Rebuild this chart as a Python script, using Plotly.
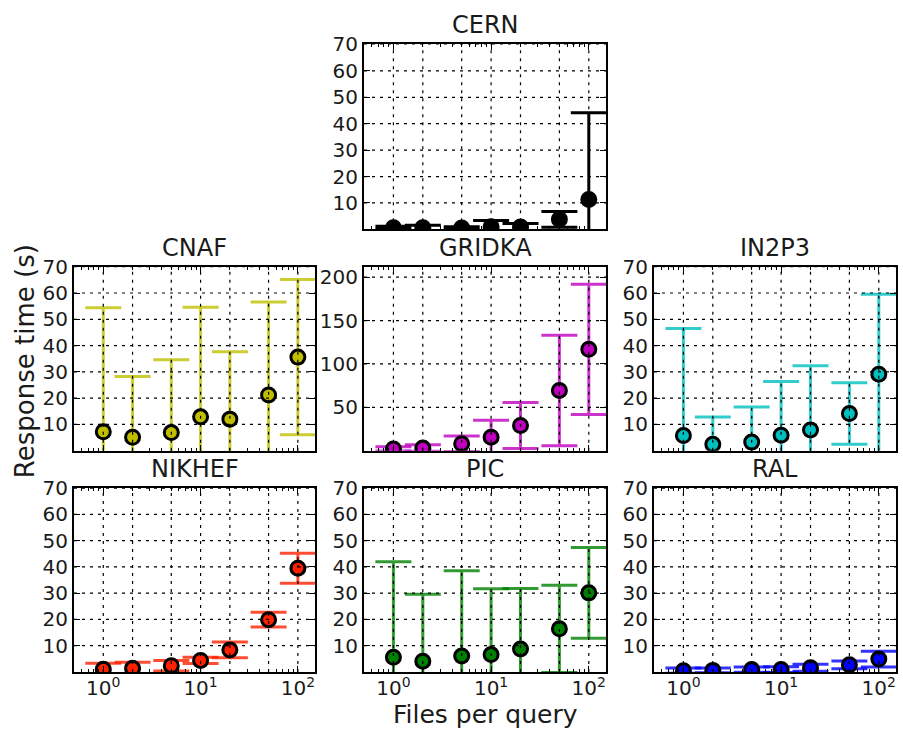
import plotly.graph_objects as go

# Number of files requested per query (x positions, log scale)
files = [1, 2, 5, 10, 20, 50, 100]

# Mean response time (s) and its standard deviation per site
cern_mean = [0.6, 0.6, 0.5, 1.0, 0.9, 3.8, 11.3]
cern_std = [0.6, 1.0, 0.5, 2.4, 1.3, 3.0, 32.8]

cnaf_mean = [7.2, 5.1, 6.9, 12.9, 12.0, 21.2, 35.6]
cnaf_std = [47.2, 23.1, 27.7, 41.7, 25.6, 35.4, 29.5]

gridka_mean = [2.0, 3.0, 8.0, 15.5, 29.0, 69.4, 116.8]
gridka_std = [2.5, 3.8, 9.0, 19.5, 26.4, 63.6, 75.0]

in2p3_mean = [5.75, 2.4, 3.25, 5.9, 7.9, 14.1, 29.1]
in2p3_std = [40.75, 10.4, 13.4, 20.4, 24.4, 11.7, 30.4]

nikhef_mean = [1.0, 1.4, 2.4, 4.4, 8.4, 19.9, 39.5]
nikhef_std = [2.3, 2.3, 2.0, 1.2, 3.0, 2.8, 5.7]

pic_mean = [5.6, 4.1, 6.1, 6.6, 8.75, 16.4, 30.1]
pic_std = [36.3, 25.5, 32.4, 25.1, 23.0, 16.6, 17.3]

ral_mean = [0.5, 0.6, 0.9, 0.9, 1.6, 2.7, 4.9]
ral_std = [1.0, 0.9, 1.0, 1.1, 1.3, 1.5, 3.0]

sites = ["CERN", "CNAF", "GRIDKA", "IN2P3", "NIKHEF", "PIC", "RAL"]
means = [cern_mean, cnaf_mean, gridka_mean, in2p3_mean, nikhef_mean, pic_mean, ral_mean]
stds = [cern_std, cnaf_std, gridka_std, in2p3_std, nikhef_std, pic_std, ral_std]

y_ticks_default = [10, 20, 30, 40, 50, 60, 70]
y_ticks_gridka = [50, 100, 150, 200]
x_tick_vals = [1, 10, 100]
x_tick_text = ["10<sup>0</sup>", "10<sup>1</sup>", "10<sup>2</sup>"]

# Styling and layout
marker_rgb = {
    "CERN": (0, 0, 0),
    "CNAF": (191, 191, 0),
    "GRIDKA": (191, 0, 191),
    "IN2P3": (0, 191, 191),
    "NIKHEF": (255, 32, 0),
    "PIC": (0, 128, 0),
    "RAL": (0, 0, 255),
}
grid_pos = {  # (row, col)
    "CERN": (0, 1), "CNAF": (1, 0), "GRIDKA": (1, 1), "IN2P3": (1, 2),
    "NIKHEF": (2, 0), "PIC": (2, 1), "RAL": (2, 2),
}
W, H = 903, 729
col_px = [(74, 315), (364, 606), (654, 896)]
row_px = [(33, 221), (259, 446), (484, 671)]

FONT = "DejaVu Sans"
TXT = "#1a1a1a"
tick_font = dict(family=FONT, size=20, color=TXT)

fig = go.Figure()
shapes = []
annotations = []
layout_axes = {}

x_lo, x_hi = 0.5, 150.0
minor_vals = [v * d for d in (0.1, 1, 10, 100) for v in range(2, 10)]
minor_vals = [v for v in minor_vals if x_lo <= v <= x_hi and v not in (1, 10, 100)]

for i, site in enumerate(sites):
    n = "" if i == 0 else str(i + 1)
    xa, ya = "x" + n, "y" + n
    row, col = grid_pos[site]
    r, g, b = marker_rgb[site]
    fill = "rgb(%d,%d,%d)" % (r, g, b)
    errc = "rgba(%d,%d,%d,0.8)" % (r, g, b) if site != "CERN" else "black"

    fig.add_trace(go.Scatter(
        x=files, y=means[i], xaxis=xa, yaxis=ya, mode="markers",
        marker=dict(size=14, color=fill, line=dict(color="black", width=3)),
        error_y=dict(type="data", array=stds[i], symmetric=True,
                     color=errc, thickness=3, width=18),
        showlegend=False, hoverinfo="skip",
    ))

    yt = y_ticks_gridka if site == "GRIDKA" else y_ticks_default
    ytop = 212 if site == "GRIDKA" else 70
    x0p, x1p = col_px[col]
    t0p, b0p = row_px[row]
    xdom = [x0p / W, x1p / W]
    ydom = [1 - b0p / H, 1 - t0p / H]
    bottom_row = row == 2

    layout_axes["xaxis" + n] = dict(
        type="log", range=[-0.30103, 2.17609], domain=xdom,
        anchor=ya, showgrid=False, zeroline=False,
        showline=True, linecolor="black", linewidth=2, mirror="allticks",
        ticks="inside", ticklen=6, tickwidth=1, tickcolor="black",
        tickmode="array", tickvals=x_tick_vals, ticktext=x_tick_text,
        showticklabels=bottom_row, tickfont=tick_font, ticklabelstandoff=-3,
        minor=dict(ticks="inside", ticklen=3, tickwidth=1, tickcolor="black",
                   tickmode="array", tickvals=minor_vals, showgrid=False),
    )
    layout_axes["yaxis" + n] = dict(
        range=[0, ytop], domain=ydom, anchor=xa, showgrid=False, zeroline=False,
        showline=True, linecolor="black", linewidth=2, mirror="allticks",
        ticks="inside", ticklen=6, tickwidth=1, tickcolor="black",
        tickmode="array", tickvals=yt, tickfont=tick_font,
    )

    # dotted grid drawn above the data
    gline = dict(color="black", width=1.2, dash="3px,5px")
    for fx in files:
        shapes.append(dict(type="line", xref=xa, yref=ya + " domain",
                           x0=fx, x1=fx, y0=0, y1=1, line=gline, layer="above"))
    for yv in yt:
        shapes.append(dict(type="line", xref=xa + " domain", yref=ya,
                           x0=0, x1=1, y0=yv, y1=yv, line=gline, layer="above"))

    annotations.append(dict(
        text=site, xref="paper", yref="paper",
        x=(xdom[0] + xdom[1]) / 2, y=ydom[1], xanchor="center", yanchor="bottom",
        yshift=3, showarrow=False, font=dict(family=FONT, size=24, color=TXT),
    ))

annotations.append(dict(
    text="Response time (s)", xref="paper", yref="paper",
    x=25 / W, y=1 - 355 / H, xanchor="center", yanchor="middle", textangle=-90,
    showarrow=False, font=dict(family=FONT, size=26, color=TXT),
))
annotations.append(dict(
    text="Files per query", xref="paper", yref="paper",
    x=485 / W, y=1 - 714 / H, xanchor="center", yanchor="middle",
    showarrow=False, font=dict(family=FONT, size=25, color=TXT),
))

fig.update_layout(
    width=W, height=H, margin=dict(l=0, r=0, t=0, b=0),
    paper_bgcolor="white", plot_bgcolor="white",
    shapes=shapes, annotations=annotations, **layout_axes,
)

fig.write_html("out.html")
